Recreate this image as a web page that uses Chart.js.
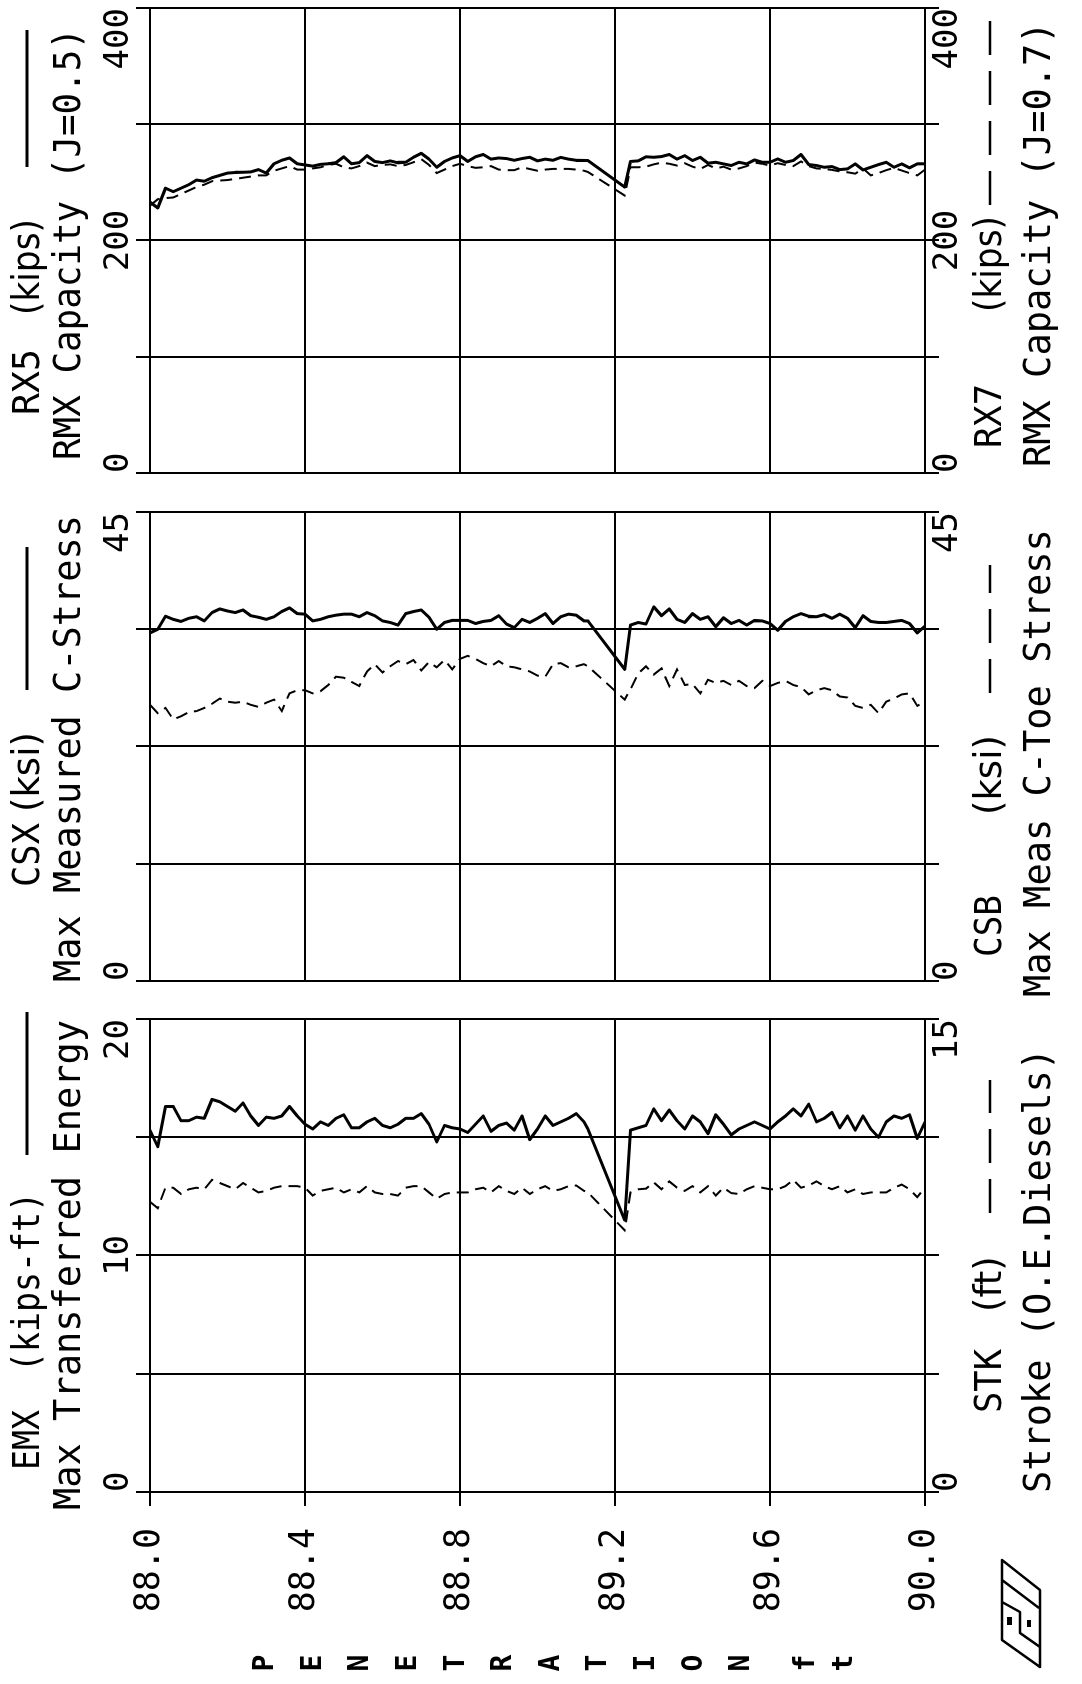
<!DOCTYPE html>
<html>
<head>
<meta charset="utf-8">
<script src="https://cdn.jsdelivr.net/npm/chart.js@4.4.0/dist/chart.umd.min.js"></script>
<style>
html, body { margin: 0; padding: 0; background: #fff; }
body { width: 1082px; height: 1684px; overflow: hidden; position: relative; }
/* the plot is laid out landscape and turned a quarter turn, like the paper printout */
#page { position: absolute; left: 0; top: 0; width: 1684px; height: 1082px;
        transform-origin: 0 0; transform: translateY(1684px) rotate(-90deg); }
#page canvas { position: absolute; top: 0; }
</style>
</head>
<body>
<div id="page">
  <canvas id="emxChart" width="700" height="1082" style="left:0;width:700px;height:1082px"></canvas>
  <canvas id="csxChart" width="535" height="1082" style="left:672px;width:535px;height:1082px"></canvas>
  <canvas id="rxChart" width="504" height="1082" style="left:1180px;width:504px;height:1082px"></canvas>
</div>
<script>
// penetration (ft) for each blow
var penetration = [
  88.00, 88.02, 88.04, 88.06, 88.08, 88.10, 88.12, 88.14, 88.16, 88.18,
  88.20, 88.22, 88.24, 88.26, 88.28, 88.30, 88.32, 88.34, 88.36, 88.38,
  88.40, 88.42, 88.44, 88.46, 88.48, 88.50, 88.52, 88.54, 88.56, 88.58,
  88.60, 88.62, 88.64, 88.66, 88.68, 88.70, 88.72, 88.74, 88.76, 88.78,
  88.80, 88.82, 88.84, 88.86, 88.88, 88.90, 88.92, 88.94, 88.96, 88.98,
  89.00, 89.02, 89.04, 89.06, 89.08, 89.10, 89.12, 89.13, 89.225,
  89.24, 89.26, 89.28, 89.30, 89.32, 89.34, 89.36, 89.38,
  89.40, 89.42, 89.44, 89.46, 89.48, 89.50, 89.52, 89.54, 89.56, 89.58,
  89.60, 89.62, 89.64, 89.66, 89.68, 89.70, 89.72, 89.74, 89.76, 89.78,
  89.80, 89.82, 89.84, 89.86, 89.88, 89.90, 89.92, 89.94, 89.96, 89.98, 90.00
];

// EMX (kips-ft), max transferred energy
var emxValues = [
  15.3, 14.6, 16.3, 16.3, 15.7, 15.7, 15.85, 15.8, 16.6, 16.5,
  16.3, 16.1, 16.45, 15.9, 15.5, 15.85, 15.8, 15.9, 16.3, 15.9,
  15.55, 15.35, 15.65, 15.5, 15.8, 15.95, 15.4, 15.4, 15.65, 15.8,
  15.5, 15.4, 15.55, 15.8, 15.8, 16.0, 15.55, 14.8, 15.5, 15.4,
  15.35, 15.2, 15.55, 15.9, 15.25, 15.5, 15.6, 15.3, 15.9, 14.9,
  15.35, 15.9, 15.5, 15.65, 15.8, 16.0, 15.65, 15.35, 11.5,
  15.3, 15.4, 15.5, 16.2, 15.7, 16.15, 15.7, 15.35,
  15.9, 15.65, 15.15, 15.95, 15.55, 15.1, 15.35, 15.5, 15.65, 15.5,
  15.35, 15.65, 15.9, 16.2, 15.9, 16.4, 15.65, 15.8, 16.05, 15.4,
  15.9, 15.3, 15.9, 15.35, 15.0, 15.65, 15.9, 15.8, 15.95, 14.95, 15.65
];

// STK (ft), stroke
var stkValues = [
  9.2, 9.0, 9.65, 9.65, 9.45, 9.6, 9.65, 9.6, 9.9, 9.8,
  9.7, 9.6, 9.8, 9.65, 9.5, 9.55, 9.65, 9.7, 9.7, 9.7,
  9.65, 9.4, 9.55, 9.6, 9.65, 9.5, 9.6, 9.5, 9.7, 9.5,
  9.45, 9.45, 9.4, 9.65, 9.7, 9.7, 9.5, 9.3, 9.45, 9.5,
  9.5, 9.5, 9.6, 9.65, 9.5, 9.7, 9.55, 9.45, 9.65, 9.45,
  9.6, 9.7, 9.55, 9.6, 9.7, 9.72, 9.55, 9.5, 8.3,
  9.5, 9.6, 9.62, 9.82, 9.6, 9.85, 9.65, 9.55,
  9.7, 9.5, 9.7, 9.4, 9.65, 9.48, 9.45, 9.6, 9.7, 9.65,
  9.6, 9.6, 9.7, 9.9, 9.65, 9.72, 9.85, 9.7, 9.6, 9.7,
  9.5, 9.6, 9.45, 9.5, 9.5, 9.5, 9.65, 9.75, 9.6, 9.35, 9.66
];

// CSX (ksi), max measured compression stress
var csxValues = [
  33.4, 33.75, 35.0, 34.7, 34.5, 34.8, 34.95, 34.55, 35.35, 35.7,
  35.5, 35.35, 35.6, 35.05, 34.9, 34.7, 34.95, 35.45, 35.8, 35.25,
  35.2, 34.55, 34.7, 34.95, 35.1, 35.2, 35.2, 34.95, 35.35, 35.05,
  34.55, 34.4, 34.15, 35.25, 35.45, 35.6, 34.9, 33.75, 34.4, 34.6,
  34.6, 34.6, 34.3, 34.5, 34.6, 35.05, 34.25, 33.9, 34.7, 34.4,
  34.8, 35.25, 34.3, 34.95, 35.2, 35.1, 34.55, 34.55, 29.9,
  34.15, 34.4, 34.25, 35.9, 35.05, 35.7, 34.7, 34.4,
  35.25, 34.7, 34.95, 34.0, 34.85, 34.3, 34.6, 34.15, 34.6, 34.55,
  34.3, 33.65, 34.5, 34.95, 35.25, 35.0, 34.95, 35.15, 34.8, 35.2,
  34.8, 33.9, 35.05, 34.5, 34.4, 34.4, 34.5, 34.6, 34.3, 33.4, 34.05
];

// CSB (ksi), max measured toe compression stress
var csbValues = [
  26.5, 25.7, 26.2, 25.1, 25.4, 25.8, 25.9, 26.2, 26.6, 27.1,
  26.8, 26.7, 26.8, 26.5, 26.3, 26.7, 27.0, 25.9, 27.6, 27.9,
  27.9, 27.6, 27.8, 28.4, 29.2, 29.1, 28.7, 28.3, 29.7, 30.4,
  29.6, 30.2, 30.7, 30.4, 30.8, 29.8, 30.6, 30.1, 30.8, 29.9,
  30.9, 31.2, 30.9, 30.5, 30.2, 30.7, 30.2, 30.1, 29.9, 29.7,
  29.3, 29.2, 30.4, 30.5, 30.1, 30.2, 30.4, 30.2, 27.0,
  28.0, 29.5, 30.2, 29.4, 30.0, 28.3, 29.9, 28.4,
  28.5, 27.6, 28.9, 28.6, 28.8, 28.4, 28.8, 28.3, 28.1, 28.8,
  28.3, 28.6, 28.8, 28.4, 28.2, 27.5, 27.9, 28.1, 27.9, 27.3,
  27.2, 26.4, 26.2, 26.5, 25.7, 26.8, 27.1, 27.5, 27.6, 26.4, 26.8
];

// RX5 (kips), RMX capacity J=0.5
var rx5Values = [
  233, 228, 245, 242, 245, 248, 252, 251, 254, 256,
  258, 258.5, 258.7, 259, 261, 258, 266, 269, 271, 266,
  265, 264, 265.5, 266, 267, 272, 266, 267, 273, 268,
  267, 268.5, 266.8, 267.3, 271.6, 275, 270, 263, 268, 271,
  273, 268, 272, 274, 270, 271, 270.5, 269, 270.5, 271.6,
  268.5, 270, 269, 271.5, 270, 269, 268.8, 268.8, 246,
  268, 268.5, 272, 271.6, 272.2, 274, 270, 273,
  268.8, 271.6, 266.5, 267.3, 265.9, 264.5, 267.3, 265.9, 269.3, 267.3,
  267.3, 270.2, 267.3, 268.8, 274, 265.3, 264.5, 263, 263.6, 261,
  261.6, 265.9, 260.7, 263, 265.3, 267.3, 263, 265.9, 262.5, 265.9, 266
];

// RX7 (kips), RMX capacity J=0.7
var rx7Values = [
  230, 235.5, 236.5, 237, 240, 243, 246, 248, 251, 251.6,
  252, 253, 254, 255, 256, 256, 260, 262, 264, 261,
  261, 262, 263, 265, 266, 263, 262, 264, 267, 264,
  265, 265.5, 264, 265, 267.3, 270, 265, 258, 261, 264,
  266, 264, 262.5, 263, 264, 261, 260.5, 260.5, 263, 261.5,
  260, 261, 261.6, 261.6, 261.6, 261, 260, 259, 238.7,
  263, 263, 263.5, 265.5, 267, 266, 264.5, 266.5,
  263.5, 261.5, 265, 262, 263.5, 261, 262, 264, 267, 266,
  264.5, 266.5, 265, 264, 268, 264, 262, 261.6, 260.7, 259.5,
  258.7, 257.5, 262, 256, 258, 260.5, 262.5, 260.2, 258, 256, 261
];

// axis tick values that carry a label
var emxTicks = [0, 10, 20];
var stkTicks = [0, 15];
var csxTicks = [0, 45];
var csbTicks = [0, 45];
var rx5Ticks = [0, 200, 400];
var rx7Ticks = [0, 200, 400];

var FONT = 'DejaVu Sans Mono';
var SANS = 'DejaVu Sans';
var rowY = { top1: 29, top2: 70, bottom1: 991, bottom2: 1040 };
var lineY = { top: 27, bottom: 990 };

function points(values) {
  return penetration.map(function(p, i) { return { x: values[i], y: p }; });
}

function headerPlugin(h) {
  return {
    id: 'headers',
    afterDraw: function(chart) {
      var c = chart.ctx, L = chart.chartArea.left;
      c.save();
      c.fillStyle = '#000';
      c.strokeStyle = '#000';
      c.textAlign = 'left';
      c.textBaseline = 'middle';
      h.texts.forEach(function(t) {
        c.font = '37px "' + (t.sans ? SANS : FONT) + '"';
        if (t.w) c.fillText(t.text, L + t.dx, t.y, t.w);
        else c.fillText(t.text, L + t.dx, t.y);
      });
      h.lines.forEach(function(l) {
        c.beginPath();
        c.lineWidth = l.dash ? 2.5 : 3;
        c.setLineDash(l.dash || []);
        c.moveTo(L + l.x1, l.y);
        c.lineTo(L + l.x2, l.y);
        c.stroke();
      });
      c.restore();
    }
  };
}

// stacked axis title and the company mark, left of the penetration ticks
var penetrationTitle = {
  id: 'penetrationTitle',
  afterDraw: function(chart) {
    var c = chart.ctx;
    c.save();
    c.fillStyle = '#000';
    c.font = 'bold 28px "' + FONT + '"';
    c.textAlign = 'center';
    c.textBaseline = 'middle';
    'PENETRATION'.split('').forEach(function(ch, i) { c.fillText(ch, 21, 266 + i * 47.6); });
    c.fillText('f', 21, 807);
    c.fillText('t', 21, 845);

    c.strokeStyle = '#000';
    c.lineJoin = 'round';
    c.lineWidth = 2.5;
    c.beginPath();
    c.moveTo(124, 1002); c.lineTo(94, 1040); c.lineTo(17, 1040); c.lineTo(44, 1002); c.closePath();
    c.moveTo(104, 1002); c.lineTo(76, 1039);
    c.moveTo(82, 1002); c.lineTo(72, 1020); c.lineTo(51, 1020); c.lineTo(37, 1040);
    c.stroke();
    c.fillRect(59, 1007, 8, 5);
    c.fillRect(57, 1027, 7, 4);
    c.restore();
  }
};

function makePanel(id, cfg) {
  var tickFont = { family: FONT, size: 34, lineHeight: 1 };
  return new Chart(document.getElementById(id), {
    type: 'scatter',
    data: {
      datasets: [
        { data: points(cfg.dashed), xAxisID: 'x2', yAxisID: 'y', showLine: true,
          borderColor: '#000', borderWidth: 2, borderDash: [12, 7], pointRadius: 0 },
        { data: points(cfg.solid), xAxisID: 'x', yAxisID: 'y', showLine: true,
          borderColor: '#000', borderWidth: 3, pointRadius: 0, borderJoinStyle: 'round' }
      ]
    },
    options: {
      responsive: false,
      maintainAspectRatio: false,
      animation: false,
      events: [],
      layout: { padding: { left: 0, right: cfg.padRight, top: 0, bottom: 0 } },
      plugins: { legend: { display: false }, tooltip: { enabled: false } },
      scales: {
        x: {
          axis: 'x', type: 'linear', position: 'top', min: 0, max: cfg.topMax,
          afterFit: function(s) { s.height = 150; },
          ticks: { stepSize: cfg.topMax / 4, autoSkip: false, maxRotation: 0, minRotation: 0,
                   align: 'inner', padding: 0, color: '#000', font: tickFont,
                   callback: function(v) { return cfg.topLabels.indexOf(v) >= 0 ? String(v) : ''; } },
          grid: { color: '#000', lineWidth: 2, tickLength: 14 },
          border: { color: '#000', width: 2 }
        },
        x2: {
          axis: 'x', type: 'linear', position: 'bottom', min: 0, max: cfg.bottomMax,
          afterFit: function(s) { s.height = 157; },
          ticks: { stepSize: cfg.bottomMax / 4, autoSkip: false, maxRotation: 0, minRotation: 0,
                   align: 'inner', padding: -8, color: '#000', font: tickFont,
                   callback: function(v) { return cfg.bottomLabels.indexOf(v) >= 0 ? String(v) : ''; } },
          grid: { drawOnChartArea: false, color: '#000', lineWidth: 2, tickLength: 14 },
          border: { color: '#000', width: 2 }
        },
        y: {
          type: 'linear', position: 'left', reverse: true, min: 88, max: 90,
          afterFit: function(s) { s.width = cfg.yWidth; },
          ticks: { display: cfg.showPenetration, stepSize: 0.4, autoSkip: false, padding: 22,
                   color: '#000', font: { family: FONT, size: 35, lineHeight: 1 },
                   callback: function(v) { return v.toFixed(1); } },
          grid: { color: '#000', lineWidth: 2, tickLength: 14, drawTicks: cfg.showPenetration },
          border: { color: '#000', width: 2 }
        }
      }
    },
    plugins: [headerPlugin(cfg.headers)].concat(cfg.extra || [])
  });
}

makePanel('emxChart', {
  solid: emxValues, dashed: stkValues,
  topMax: 20, topLabels: emxTicks, bottomMax: 15, bottomLabels: stkTicks,
  yWidth: 192, padRight: 35, showPenetration: true, extra: [penetrationTitle],
  headers: {
    texts: [
      { text: 'EMX', dx: 22, y: rowY.top1, w: 60 },
      { text: '(kips-ft)', dx: 120, y: rowY.top1, w: 180 },
      { text: 'Max Transferred Energy', dx: -18, y: rowY.top2, w: 497 },
      { text: 'STK', dx: 79, y: rowY.bottom1, w: 64 },
      { text: '(ft)', dx: 180, y: rowY.bottom1, w: 64, sans: true },
      { text: 'Stroke (O.E.Diesels)', dx: -1, y: rowY.bottom2, w: 445 }
    ],
    lines: [
      { x1: 337, x2: 480, y: lineY.top },
      { x1: 279, x2: 412, y: lineY.bottom, dash: [34, 16] }
    ]
  }
});

makePanel('csxChart', {
  solid: csxValues, dashed: csbValues,
  topMax: 45, topLabels: csxTicks, bottomMax: 45, bottomLabels: csbTicks,
  yWidth: 31, padRight: 35, showPenetration: false,
  headers: {
    texts: [
      { text: 'CSX', dx: 94, y: rowY.top1, w: 64 },
      { text: '(ksi)', dx: 169, y: rowY.top1, w: 90, sans: true },
      { text: 'Max Measured C-Stress', dx: -1, y: rowY.top2, w: 467 },
      { text: 'CSB', dx: 24, y: rowY.bottom1, w: 62 },
      { text: '(ksi)', dx: 166, y: rowY.bottom1, w: 92, sans: true },
      { text: 'Max Meas C-Toe Stress', dx: -16, y: rowY.bottom2, w: 476 }
    ],
    lines: [
      { x1: 291, x2: 434, y: lineY.top },
      { x1: 288, x2: 416, y: lineY.bottom, dash: [34, 16] }
    ]
  }
});

makePanel('rxChart', {
  solid: rx5Values, dashed: rx7Values,
  topMax: 400, topLabels: rx5Ticks, bottomMax: 400, bottomLabels: rx7Ticks,
  yWidth: 31, padRight: 8, showPenetration: false,
  headers: {
    texts: [
      { text: 'RX5', dx: 58, y: rowY.top1, w: 66 },
      { text: '(kips)', dx: 158, y: rowY.top1, w: 96, sans: true },
      { text: 'RMX Capacity (J=0.5)', dx: 13, y: rowY.top2, w: 432 },
      { text: 'RX7', dx: 25, y: rowY.bottom1, w: 64 },
      { text: '(kips)', dx: 161, y: rowY.bottom1, w: 96, sans: true },
      { text: 'RMX Capacity (J=0.7)', dx: 6, y: rowY.bottom2, w: 454 }
    ],
    lines: [
      { x1: 306, x2: 443, y: lineY.top },
      { x1: 268, x2: 458, y: lineY.bottom, dash: [34, 16] }
    ]
  }
});
</script>
</body>
</html>
